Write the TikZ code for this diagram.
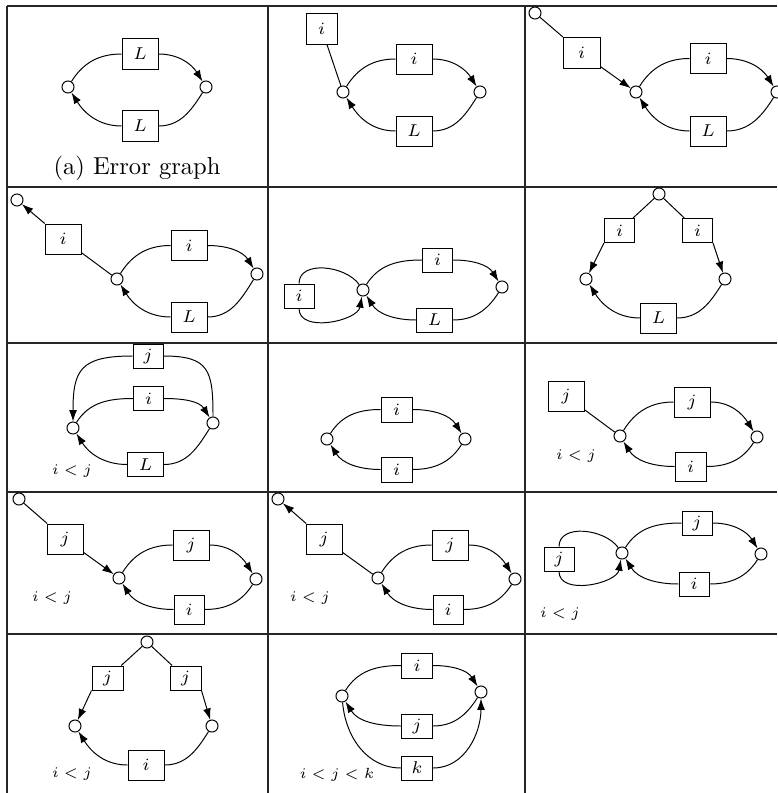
\documentclass[tikz,border=0pt]{standalone}
\usetikzlibrary{arrows.meta}
\begin{document}
\begin{tikzpicture}[x=0.4075pt,y=-0.4075pt,
  v/.style={circle,draw,fill=white,minimum size=4.9pt,inner sep=0pt,line width=0.4pt},
  bx/.style 2 args={draw,fill=white,minimum width=#1*0.4075pt,minimum height=#2*0.4075pt,inner sep=0pt,line width=0.4pt,font=\fontsize{6.8}{8}\selectfont},
  cond/.style={inner sep=0pt,font=\fontsize{6.5}{8}\selectfont},
  ar/.style={-{Latex[length=4.6pt,width=3.2pt]}},
  every path/.style={line width=0.4pt},
  grid/.style={line width=0.45pt,draw=black!85}]
\useasboundingbox (0,0) rectangle (777,793);
% grid
\draw[grid] (7,6) -- (777,6);
\draw[grid] (7,187) -- (777,187);
\draw[grid] (7,343) -- (777,343);
\draw[grid] (7,492) -- (777,492);
\draw[grid] (7,634) -- (777,634);
\draw[grid] (7,6) -- (7,793);
\draw[grid] (268,6) -- (268,793);
\draw[grid] (525,6) -- (525,793);

\tikzset{
  up/.style={out=58,in=180},
  dn/.style={out=0,in=122},
  rb/.style={out=-122,in=0},
  lb/.style={out=180,in=-58}}

% cell 1,1
\node[v] (a1) at (68,87) {};
\node[v] (a2) at (206,87) {};
\node[bx={36}{31}] (a3) at (140,54) {$L$};
\node[bx={36}{31}] (a4) at (140,126) {$L$};
\draw (a1) to[up] (a3);
\draw[ar] (a3) to[dn] (a2);
\draw (a2) to[rb] (a4);
\draw[ar] (a4) to[lb] (a1);
\node[inner sep=0pt,font=\fontsize{10}{12}\selectfont] (a5) at (137,168) {(a) Error graph};

% cell 1,2
\node[v] (b1) at (343,92) {};
\node[v] (b2) at (480,92) {};
\node[bx={36}{30}] (b3) at (414,59) {$i$};
\node[bx={36}{30}] (b4) at (414,131) {$L$};
\node[bx={31}{31}] (b5) at (321.5,28.5) {$i$};
\draw (b5) -- (b1);
\draw (b1) to[up] (b3);
\draw[ar] (b3) to[dn] (b2);
\draw (b2) to[rb] (b4);
\draw[ar] (b4) to[lb] (b1);

% cell 1,3
\node[v] (c0) at (535,13) {};
\node[bx={37}{31}] (c5) at (581.5,53) {$i$};
\node[v] (c1) at (636,92) {};
\node[v] (c2) at (777,92) {};
\node[bx={36}{30}] (c3) at (708,58.5) {$i$};
\node[bx={36}{30}] (c4) at (708,131) {$L$};
\draw (c0) -- (c5);
\draw[ar] (c5) -- (c1);
\draw (c1) to[up] (c3);
\draw[ar] (c3) to[dn] (c2);
\draw (c2) to[rb] (c4);
\draw[ar] (c4) to[lb] (c1);

% cell 2,1
\node[v] (d0) at (17,200) {};
\node[bx={36}{30}] (d5) at (63,239) {$i$};
\node[v] (d1) at (117,279) {};
\node[v] (d2) at (257,274) {};
\node[bx={36}{30}] (d3) at (189,245.5) {$i$};
\node[bx={36}{30}] (d4) at (189,317) {$L$};
\draw[ar] (d5) -- (d0);
\draw (d5) -- (d1);
\draw (d1) to[up] (d3);
\draw[ar] (d3) to[dn] (d2);
\draw (d2) to[rb] (d4);
\draw[ar] (d4) to[lb] (d1);

% cell 2,2
\node[bx={30}{24}] (e5) at (299,296) {$i$};
\node[v] (e1) at (363,290) {};
\node[v] (e2) at (502,287) {};
\node[bx={30}{24}] (e3) at (437.5,260) {$i$};
\node[bx={36}{24}] (e4) at (434.5,320) {$L$};
\draw (e1) to[out=125,in=90] (e5);
\draw[ar] (e5) to[out=-90,in=-100] (e1);
\draw (e1) to[up] (e3);
\draw[ar] (e3) to[dn] (e2);
\draw (e2) to[rb] (e4);
\draw[ar] (e4) to[lb] (e1);

% cell 2,3
\node[v] (f0) at (659,194) {};
\node[bx={30}{24}] (f5) at (619.5,230.5) {$i$};
\node[bx={30}{24}] (f6) at (697.5,230.5) {$i$};
\node[v] (f1) at (586,279) {};
\node[v] (f2) at (725,279) {};
\node[bx={36}{30}] (f4) at (658.5,318) {$L$};
\draw (f0) -- (f5);
\draw (f0) -- (f6);
\draw[ar] (f5.south west) -- (f1);
\draw[ar] (f6.south east) -- (f2);
\draw (f2) to[rb] (f4);
\draw[ar] (f4) to[lb] (f1);

% cell 3,1
\node[bx={30}{24}] (g6) at (148,356) {$j$};
\node[bx={30}{24}] (g3) at (148.5,398.5) {$i$};
\node[bx={36}{24}] (g4) at (145.5,464.5) {$L$};
\node[v] (g1) at (73,428) {};
\node[v] (g2) at (213,423) {};
\node[cond] (g7) at (72,471) {$i<j$};
\draw (g2) to[out=90,in=0,looseness=1.5] (g6);
\draw[ar] (g6) to[out=180,in=90,looseness=1.5] (g1);
\draw (g1) to[up] (g3);
\draw[ar] (g3) to[dn] (g2);
\draw (g2) to[rb] (g4);
\draw[ar] (g4) to[lb] (g1);

% cell 3,2
\node[bx={31}{25}] (h3) at (396.5,409.5) {$i$};
\node[bx={31}{25}] (h4) at (396.5,469.5) {$i$};
\node[v] (h1) at (327,439) {};
\node[v] (h2) at (465,439) {};
\draw (h1) to[up] (h3);
\draw[ar] (h3) to[dn] (h2);
\draw (h2) to[rb] (h4);
\draw[ar] (h4) to[lb] (h1);

% cell 3,3
\node[bx={36}{30}] (k5) at (566,396) {$j$};
\node[v] (k1) at (620,436) {};
\node[v] (k2) at (757,437) {};
\node[bx={36}{30}] (k3) at (692,402) {$j$};
\node[bx={31}{29}] (k4) at (690.5,466.5) {$i$};
\node[cond] (k7) at (576,456) {$i<j$};
\draw (k5) -- (k1);
\draw (k1) to[up] (k3);
\draw[ar] (k3) to[dn] (k2);
\draw (k2) to[rb] (k4);
\draw[ar] (k4) to[lb] (k1);

% cell 4,1
\node[v] (l0) at (19,499) {};
\node[bx={36}{30}] (l5) at (65,539) {$j$};
\node[v] (l1) at (119,578) {};
\node[v] (l2) at (256,579) {};
\node[bx={36}{30}] (l3) at (191,545) {$j$};
\node[bx={30}{29}] (l4) at (189,609.5) {$i$};
\node[cond] (l7) at (52,598) {$i<j$};
\draw (l0) -- (l5);
\draw[ar] (l5) -- (l1);
\draw (l1) to[up] (l3);
\draw[ar] (l3) to[dn] (l2);
\draw (l2) to[rb] (l4);
\draw[ar] (l4) to[lb] (l1);

% cell 4,2
\node[v] (m0) at (278,499) {};
\node[bx={36}{30}] (m5) at (324,539) {$j$};
\node[v] (m1) at (378,578) {};
\node[v] (m2) at (515,579) {};
\node[bx={36}{30}] (m3) at (450,545) {$j$};
\node[bx={30}{29}] (m4) at (448,609.5) {$i$};
\node[cond] (m7) at (310,598) {$i<j$};
\draw[ar] (m5) -- (m0);
\draw (m5) -- (m1);
\draw (m1) to[up] (m3);
\draw[ar] (m3) to[dn] (m2);
\draw (m2) to[rb] (m4);
\draw[ar] (m4) to[lb] (m1);

% cell 4,3
\node[bx={30}{24}] (n5) at (559,559) {$j$};
\node[v] (n1) at (622,553) {};
\node[v] (n2) at (761,554) {};
\node[bx={30}{24}] (n3) at (697,523) {$j$};
\node[bx={30}{24}] (n4) at (694,584) {$i$};
\node[cond] (n7) at (560,614) {$i<j$};
\draw (n5) to[out=90,in=125] (n1);
\draw[ar] (n5) to[out=-90,in=-100] (n1);
\draw (n1) to[up] (n3);
\draw[ar] (n3) to[dn] (n2);
\draw (n2) to[rb] (n4);
\draw[ar] (n4) to[lb] (n1);

% cell 5,1
\node[v] (o0) at (147,642) {};
\node[bx={31}{24}] (o5) at (107.5,678) {$j$};
\node[bx={31}{24}] (o6) at (185.5,678) {$j$};
\node[v] (o1) at (75,726) {};
\node[v] (o2) at (212,726) {};
\node[bx={36}{30}] (o4) at (146,765) {$i$};
\node[cond] (o7) at (72,774) {$i<j$};
\draw (o0) -- (o5);
\draw (o0) -- (o6);
\draw[ar] (o5.south west) -- (o1);
\draw[ar] (o6.south east) -- (o2);
\draw (o2) to[rb] (o4);
\draw[ar] (o4) to[lb] (o1);

% cell 5,2
\node[bx={31}{25}] (p3) at (417,665.5) {$i$};
\node[bx={31}{24}] (p6) at (417,726) {$j$};
\node[bx={31}{24}] (p7) at (417,768) {$k$};
\node[v] (p1) at (342,696) {};
\node[v] (p2) at (481,692) {};
\node[cond] (p8) at (337,775) {$i<j<k$};
\draw (p1) to[up] (p3);
\draw[ar] (p3) to[dn] (p2);
\draw (p2) to[rb] (p6);
\draw[ar] (p6) to[lb] (p1);
\draw (p1) to[out=-85,in=180] (p7);
\draw[ar] (p7) to[out=0,in=-90] (p2);
\end{tikzpicture}
\end{document}
